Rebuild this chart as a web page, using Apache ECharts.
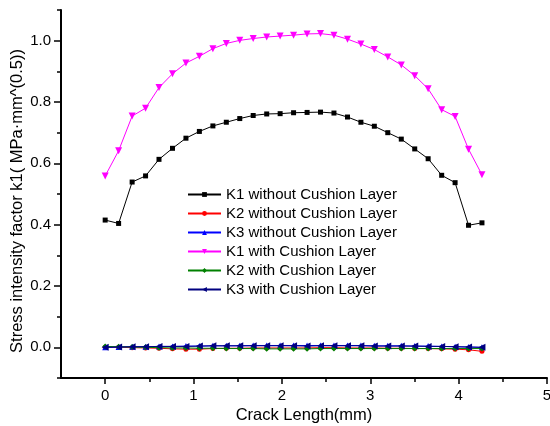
<!DOCTYPE html>
<html>
<head>
<meta charset="utf-8">
<script src="https://cdn.jsdelivr.net/npm/echarts@6/dist/echarts.min.js"></script>
<style>html,body{margin:0;padding:0;background:#fff;}#c{width:550px;height:426px;}</style>
</head>
<body>
<div id="c"></div>
<script>
const crackLength = [0, 0.152, 0.305, 0.457, 0.609, 0.762, 0.914, 1.066, 1.219, 1.371, 1.523, 1.675, 1.828, 1.980, 2.132, 2.285, 2.437, 2.589, 2.742, 2.894, 3.046, 3.198, 3.351, 3.503, 3.655, 3.808, 3.960, 4.112, 4.264];
const k1Without = [0.415, 0.404, 0.539, 0.559, 0.613, 0.649, 0.682, 0.704, 0.722, 0.734, 0.746, 0.756, 0.761, 0.762, 0.765, 0.766, 0.767, 0.764, 0.751, 0.734, 0.721, 0.700, 0.679, 0.647, 0.615, 0.561, 0.537, 0.398, 0.406];
const k2Without = [0, 0.000, -0.001, -0.002, -0.003, -0.005, -0.006, -0.006, -0.004, -0.003, -0.003, -0.002, -0.002, -0.002, -0.002, -0.002, -0.001, -0.001, -0.002, -0.002, -0.002, -0.003, -0.003, -0.004, -0.004, -0.005, -0.006, -0.008, -0.013];
const k3Without = [0.000, 0.001, 0.002, 0.002, 0.003, 0.003, 0.004, 0.004, 0.005, 0.005, 0.005, 0.006, 0.006, 0.006, 0.006, 0.006, 0.006, 0.006, 0.006, 0.006, 0.005, 0.005, 0.005, 0.004, 0.004, 0.003, 0.002, 0.001, 0.000];
const k1With = [0.559, 0.641, 0.754, 0.780, 0.847, 0.892, 0.927, 0.949, 0.974, 0.991, 1.001, 1.007, 1.012, 1.015, 1.018, 1.022, 1.023, 1.018, 1.005, 0.989, 0.971, 0.947, 0.921, 0.886, 0.843, 0.775, 0.753, 0.646, 0.563];
const k2With = [0.003, 0.002, 0.001, 0.000, -0.001, -0.002, -0.002, -0.003, -0.003, -0.004, -0.004, -0.004, -0.005, -0.005, -0.005, -0.005, -0.004, -0.004, -0.004, -0.004, -0.004, -0.004, -0.004, -0.004, -0.004, -0.004, -0.004, -0.004, -0.004];
const k3With = [0.000, 0.001, 0.002, 0.002, 0.003, 0.003, 0.003, 0.004, 0.005, 0.005, 0.005, 0.005, 0.005, 0.005, 0.005, 0.004, 0.005, 0.005, 0.005, 0.005, 0.004, 0.004, 0.004, 0.004, 0.003, 0.003, 0.002, 0.001, 0.000];
const seriesNames = ['K1 without Cushion Layer', 'K2 without Cushion Layer', 'K3 without Cushion Layer', 'K1 with Cushion Layer', 'K2 with Cushion Layer', 'K3 with Cushion Layer'];
const xMajorTicks = [0, 1, 2, 3, 4, 5];
const xMinorTicks = [0.5, 1.5, 2.5, 3.5, 4.5];
const yMajorTicks = [0, 0.2, 0.4, 0.6, 0.8, 1.0];
const yMinorTicks = [-0.1, 0.1, 0.3, 0.5, 0.7, 0.9, 1.1];

const font = 'Liberation Sans, Arial, sans-serif';
const allValues = [k1Without, k2Without, k3Without, k1With, k2With, k3With];
const colors = ['#000000', '#ff0000', '#0000ff', '#ff00ff', '#008000', '#000080'];
const symbols = ['rect', 'circle', 'triangle', 'triangle', 'diamond', 'triangle'];
const rotations = [0, 0, 0, 180, 0, 90];
const sizes = [5, 5, 6, 7, 6, 7];

const series = allValues.map((vals, i) => ({
  name: seriesNames[i],
  type: 'line',
  xAxisIndex: 0,
  yAxisIndex: 0,
  data: vals.map((v, j) => [crackLength[j], v]),
  symbol: symbols[i],
  symbolRotate: rotations[i],
  symbolSize: sizes[i],
  showAllSymbol: true,
  color: colors[i],
  lineStyle: { color: colors[i], width: 1 },
  itemStyle: { color: colors[i] },
  emphasis: { disabled: true },
  animation: false
}));

const axisLineStyle = { show: true, onZero: false, lineStyle: { color: '#000', width: 2 } };
const chart = echarts.init(document.getElementById('c'));
chart.setOption({
  animation: false,
  grid: { left: 61, right: 3, top: 10, bottom: 48, outerBoundsMode: 'none', containLabel: false },
  legend: {
    orient: 'vertical',
    left: 187,
    top: 187,
    padding: 0,
    itemWidth: 33,
    itemHeight: 6,
    itemGap: 4,
    data: seriesNames,
    textStyle: { fontFamily: font, fontSize: 15, color: '#000', lineHeight: 15 },
    selectedMode: false
  },
  xAxis: [{
    type: 'value', position: 'bottom', min: -0.5, max: 5, interval: 0.5,
    axisLine: axisLineStyle,
    axisTick: { show: true, inside: false, length: 6, customValues: xMajorTicks, lineStyle: { color: '#000', width: 1.5 } },
    axisLabel: { show: true, customValues: xMajorTicks, margin: 10, fontFamily: font, fontSize: 15, color: '#000', formatter: v => String(v) },
    splitLine: { show: false },
    name: 'Crack Length(mm)', nameLocation: 'middle', nameGap: 29, nameMoveOverlap: false,
    nameTextStyle: { fontFamily: font, fontSize: 16.5, color: '#000' }
  }, {
    type: 'value', position: 'bottom', min: -0.5, max: 5, interval: 0.5,
    axisLine: { show: false, onZero: false },
    axisTick: { show: true, inside: false, length: 4, customValues: xMinorTicks, lineStyle: { color: '#000', width: 1.5 } },
    axisLabel: { show: false },
    splitLine: { show: false }
  }],
  yAxis: [{
    type: 'value', position: 'left', min: -0.1, max: 1.1, interval: 0.1,
    axisLine: axisLineStyle,
    axisTick: { show: true, inside: false, length: 7, customValues: yMajorTicks, lineStyle: { color: '#000', width: 1.5 } },
    axisLabel: { show: true, customValues: yMajorTicks, margin: 10, fontFamily: font, fontSize: 15, color: '#000', formatter: v => v.toFixed(1) },
    splitLine: { show: false },
    name: 'Stress intensity factor k1( MPa\u00b7mm^(0.5))', nameLocation: 'middle', nameGap: 35, nameMoveOverlap: false,
    nameTextStyle: { fontFamily: font, fontSize: 16.5, color: '#000', padding: [0, 14, 0, 0] }
  }, {
    type: 'value', position: 'left', min: -0.1, max: 1.1, interval: 0.1,
    axisLine: { show: false, onZero: false },
    axisTick: { show: true, inside: false, length: 4, customValues: yMinorTicks, lineStyle: { color: '#000', width: 1.5 } },
    axisLabel: { show: false },
    splitLine: { show: false }
  }],
  series: series
});
</script>
</body>
</html>
